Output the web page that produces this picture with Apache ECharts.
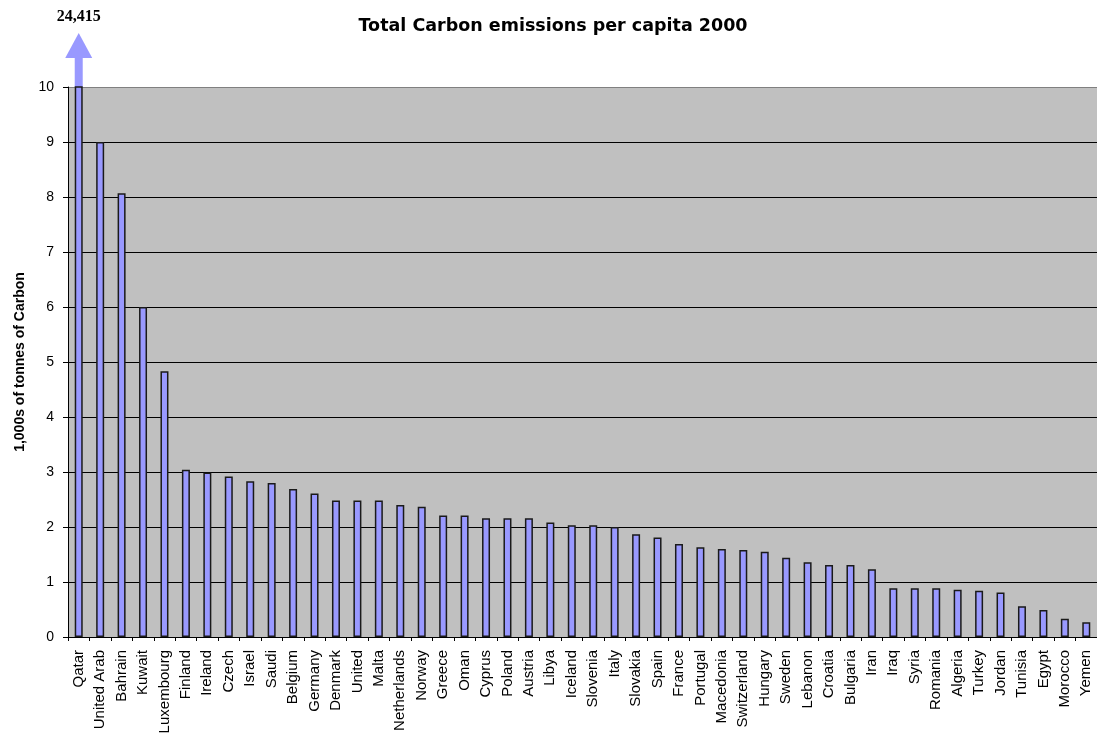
<!DOCTYPE html>
<html>
<head>
<meta charset="utf-8">
<script src="https://cdn.jsdelivr.net/npm/echarts@6/dist/echarts.min.js"></script>
<style>
	html, body { margin: 0; padding: 0; background: #fff; }
	#container { width: 1097px; height: 735px; }
</style>
</head>
<body>
<div id="container"></div>
<script>
var paises = ['Qatar', 'United Arab', 'Bahrain', 'Kuwait', 'Luxembourg', 'Finland', 'Ireland', 'Czech', 'Israel', 'Saudi',
	'Belgium', 'Germany', 'Denmark', 'United', 'Malta', 'Netherlands', 'Norway', 'Greece', 'Oman', 'Cyprus',
	'Poland', 'Austria', 'Libya', 'Iceland', 'Slovenia', 'Italy', 'Slovakia', 'Spain', 'France', 'Portugal',
	'Macedonia', 'Switzerland', 'Hungary', 'Sweden', 'Lebanon', 'Croatia', 'Bulgaria', 'Iran', 'Iraq', 'Syria',
	'Romania', 'Algeria', 'Turkey', 'Jordan', 'Tunisia', 'Egypt', 'Morocco', 'Yemen'];

// miles de toneladas de carbono por habitante
var emisiones = [24.415, 9.0, 8.07, 6.0, 4.83, 3.04, 2.99, 2.92, 2.83, 2.80,
	2.69, 2.61, 2.48, 2.48, 2.48, 2.40, 2.37, 2.21, 2.21, 2.16,
	2.16, 2.16, 2.08, 2.03, 2.03, 2.0, 1.87, 1.81, 1.69, 1.63,
	1.60, 1.58, 1.55, 1.44, 1.36, 1.31, 1.31, 1.23, 0.885, 0.885,
	0.885, 0.86, 0.84, 0.81, 0.56, 0.49, 0.33, 0.27];

var ejeMin = 0;
var ejeMax = 10;
var ejeIntervalo = 1;

function obtenerGrafica() {
	var dom = document.getElementById("container");
	var myChart = echarts.init(dom);

	// el primer valor se sale de la escala: se dibuja una flecha encima
	var fuera = [];
	emisiones.forEach((valor, index) => {
		if (valor > ejeMax) {
			fuera.push([index, ejeMax, valor]);
		}
	});

	var coloresRejilla = [];
	for (var v = ejeMin; v <= ejeMax; v += ejeIntervalo) {
		coloresRejilla.push(v == ejeMax ? '#808080' : '#000');
	}

	var option = {
		animation: false,
		title: {
			text: 'Total Carbon emissions per capita 2000',
			left: 548,
			top: 12,
			textAlign: 'center',
			textStyle: {
				fontFamily: 'DejaVu Sans',
				fontWeight: 'bold',
				fontSize: 17.5,
				color: '#000'
			}
		},
		grid: {
			left: 68,
			top: 87,
			width: 1029,
			height: 550,
			containLabel: false,
			outerBoundsMode: 'none',
			show: true,
			backgroundColor: '#c0c0c0',
			borderWidth: 0
		},
		xAxis: {
			type: 'category',
			data: paises,
			axisLine: { lineStyle: { color: '#000', width: 1 } },
			axisTick: { show: true, length: 4, lineStyle: { color: '#000' } },
			axisLabel: {
				rotate: 90,
				interval: 0,
				margin: 13,
				color: '#000',
				fontFamily: 'Liberation Sans',
				fontSize: 15
			}
		},
		yAxis: {
			type: 'value',
			min: ejeMin,
			max: ejeMax,
			interval: ejeIntervalo,
			name: '1,000s of tonnes of Carbon',
			nameLocation: 'middle',
			nameGap: 40,
			nameTextStyle: {
				fontFamily: 'Liberation Sans',
				fontWeight: 'bold',
				fontSize: 14,
				color: '#000'
			},
			axisLine: { show: true, lineStyle: { color: '#000', width: 1 } },
			axisTick: { show: true, length: 5, lineStyle: { color: '#000' } },
			axisLabel: {
				margin: 14,
				color: '#000',
				fontFamily: 'Liberation Sans',
				fontSize: 14
			},
			splitLine: { show: true, lineStyle: { color: coloresRejilla, width: 1.2 } }
		},
		series: [
			{
				type: 'bar',
				data: emisiones,
				barWidth: 8,
				clip: true,
				itemStyle: {
					color: '#9999ff',
					borderColor: '#1a1a1a',
					borderWidth: 1.5
				}
			},
			{
				type: 'custom',
				clip: false,
				data: fuera,
				renderItem: function (params, api) {
					var tope = api.coord([api.value(0), api.value(1)]);
					var x = tope[0];
					var y = tope[1];
					var etiqueta = api.value(2).toFixed(3).replace('.', ',');
					return {
						type: 'group',
						children: [
							{
								type: 'rect',
								shape: { x: x - 4, y: y - 30, width: 8, height: 30 },
								style: { fill: '#9999ff' }
							},
							{
								type: 'polygon',
								shape: { points: [[x - 13.5, y - 29], [x + 13.5, y - 29], [x, y - 54]] },
								style: { fill: '#9999ff' }
							},
							{
								type: 'text',
								x: x,
								y: y - 62,
								style: {
									text: etiqueta,
									fill: '#000',
									font: 'bold 16px "Liberation Serif"',
									align: 'center',
									verticalAlign: 'bottom'
								}
							}
						]
					};
				}
			}
		]
	};

	myChart.setOption(option, true);
}

obtenerGrafica();
</script>
</body>
</html>
